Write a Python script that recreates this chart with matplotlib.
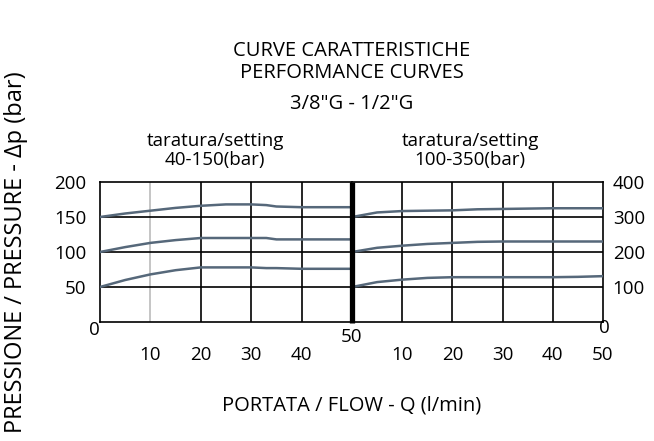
import numpy as np
import matplotlib.pyplot as plt

plt.rcParams['font.family'] = ['Open Sans', 'DejaVu Sans']

# curve values (l/min, bar)
q_left = [0, 5, 10, 15, 20, 25, 30, 33, 35, 40, 45, 50]
p_left_high = [150, 155, 159, 163, 166, 168, 168, 167, 165, 164, 164, 164]
p_left_mid = [100, 107, 113, 117, 120, 120, 120, 120, 118, 118, 118, 118]
p_left_low = [50, 60, 68, 74, 78, 78, 78, 77, 77, 76, 76, 76]

q_right = [0, 5, 10, 15, 20, 25, 30, 35, 40, 45, 50]
p_right_high = [300, 313, 317, 318, 319, 322, 323, 324, 325, 325, 325]
p_right_mid = [200, 212, 218, 223, 226, 229, 230, 230, 230, 230, 230]
p_right_low = [100, 114, 121, 126, 128, 128, 128, 128, 128, 129, 131]

xticks = [10, 20, 30, 40]
yticks_left = [50, 100, 150, 200]
yticks_right = [100, 200, 300, 400]

curve_col = '#56687a'
fs = 13.5
ft = 14.5

fig = plt.figure(figsize=(6.54, 4.41), dpi=100)
W, H = 654, 441

def box(l, r, t, b):
    return [l / W, 1 - b / H, (r - l) / W, (b - t) / H]

ax1 = fig.add_axes(box(100, 352, 182, 322))
ax2 = fig.add_axes(box(352, 603, 182, 322))

for ax, q, curves, ymax in [(ax1, q_left, [p_left_high, p_left_mid, p_left_low], 200),
                            (ax2, q_right, [p_right_high, p_right_mid, p_right_low], 400)]:
    ax.set_xlim(0, 50)
    ax.set_ylim(0, ymax)
    for x in [10, 20, 30, 40]:
        col = '#bbbbbb' if (ax is ax1 and x == 10) else 'black'
        ax.axvline(x, color=col, lw=1.2, zorder=1)
    for y in [ymax / 4, ymax / 2, ymax * 3 / 4]:
        ax.axhline(y, color='black', lw=1.2, zorder=1)
    for c in curves:
        ax.plot(q, c, color=curve_col, lw=1.8, zorder=3)
    for s in ax.spines.values():
        s.set_linewidth(1.2)
    ax.tick_params(length=0, labelsize=fs, pad=17)

ax1.set_xticks(xticks)
ax1.set_yticks(yticks_left)
ax1.tick_params(axis='y', pad=10)
ax2.set_xticks(xticks + [50])
ax2.set_yticks(yticks_right)
ax2.yaxis.tick_right()
ax2.tick_params(axis='y', pad=7)

# thick divider (drawn on the right panel, which sits on top)
ax1.spines['right'].set_visible(False)
ax2.spines['left'].set_visible(False)
ax2.plot([0, 0], [-4, 400], color='black', lw=3.8, clip_on=False, zorder=5,
         solid_capstyle='butt')

# extra axis labels
ax1.text(-1.2, -12, '0', ha='center', va='center', fontsize=fs)
ax1.text(50, -22, '50', ha='center', va='center', fontsize=fs)
ax2.text(50.3, -17, '0', ha='center', va='center', fontsize=fs)

fig.text(352 / W, 1 - 51 / H, 'CURVE CARATTERISTICHE', ha='center', va='center', fontsize=ft)
fig.text(352 / W, 1 - 73 / H, 'PERFORMANCE CURVES', ha='center', va='center', fontsize=ft)
fig.text(352 / W, 1 - 104 / H, '3/8"G - 1/2"G', ha='center', va='center', fontsize=ft)
fig.text(215 / W, 1 - 141 / H, 'taratura/setting', ha='center', va='center', fontsize=fs)
fig.text(215 / W, 1 - 160 / H, '40-150(bar)', ha='center', va='center', fontsize=fs)
fig.text(470 / W, 1 - 141 / H, 'taratura/setting', ha='center', va='center', fontsize=fs)
fig.text(470 / W, 1 - 160 / H, '100-350(bar)', ha='center', va='center', fontsize=fs)
fig.text(352 / W, 1 - 405 / H, 'PORTATA / FLOW - Q (l/min)', ha='center', va='center', fontsize=ft)
fig.text(16 / W, 1 - 252 / H, 'PRESSIONE / PRESSURE - Δp (bar)', ha='center', va='center',
         rotation=90, fontsize=17)

fig.savefig('out.png', dpi=100)
